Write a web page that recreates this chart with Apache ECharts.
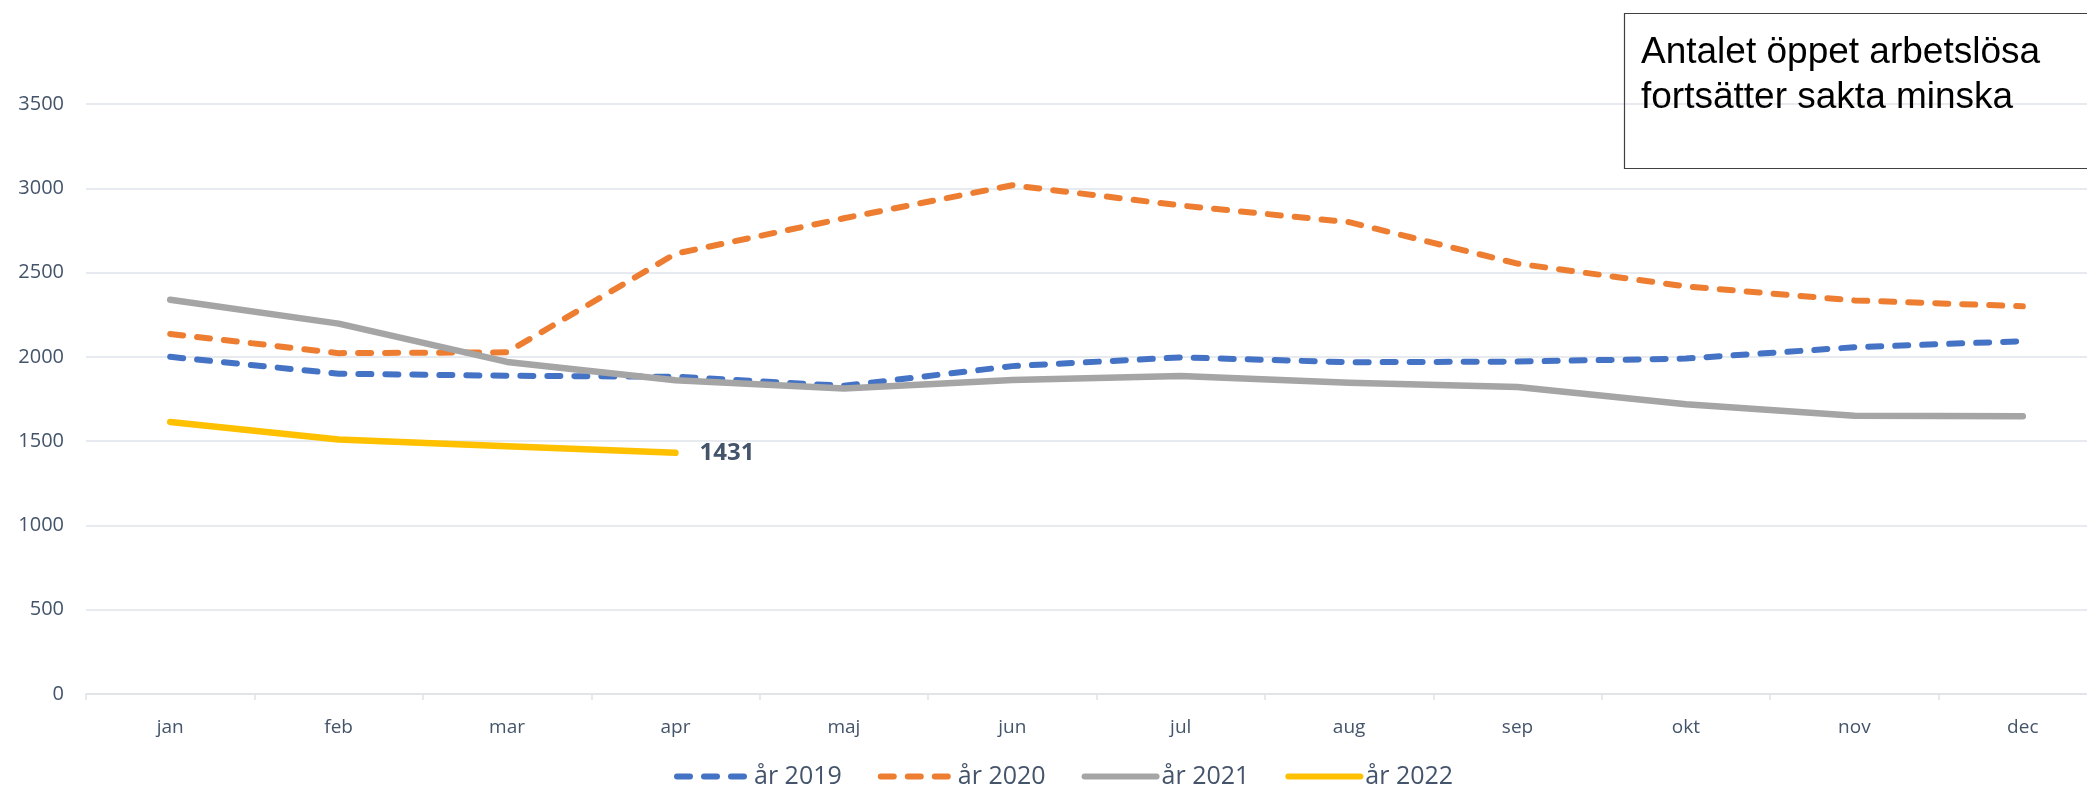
<!DOCTYPE html>
<html>
<head>
<meta charset="utf-8">
<script src="https://cdn.jsdelivr.net/npm/echarts@6/dist/echarts.min.js"></script>
<style>
html,body{margin:0;padding:0;background:#fff;overflow:hidden;}
#box{width:2107px;height:789px;}
</style>
</head>
<body>
<div id="box"></div>
<script>
var months = ['jan','feb','mar','apr','maj','jun','jul','aug','sep','okt','nov','dec'];
var ar2019 = [2000,1900,1888,1882,1828,1945,1997,1968,1972,1990,2057,2093];
var ar2020 = [2136,2022,2027,2612,2822,3018,2898,2799,2553,2418,2335,2300];
var ar2021 = [2339,2197,1970,1861,1812,1863,1887,1847,1821,1719,1651,1648];
var ar2022 = [1614,1510,1470,1431];
var seriesNames = ['år 2019','år 2020','år 2021','år 2022'];
var boxText = 'Antalet öppet arbetslösa\nfortsätter sakta minska';

var textColor = '#44546a';
var gridColor = '#dfe3e8';

// diagrammet går ut över högerkanten precis som i originalet (div 2107 bred)
var myChart = echarts.init(document.getElementById('box'));
var option = {
	animation: false,
	textStyle: {fontFamily: 'Open Sans'},
	grid: {left: 86, right: 0, top: 104, bottom: 95},
	legend: {
		data: seriesNames,
		left: 669,
		top: 759,
		itemWidth: 72,
		itemHeight: 14,
		itemGap: 36,
		itemStyle: {opacity: 0},
		lineStyle: {width: 6},
		textStyle: {color: textColor, fontSize: 25, fontFamily: 'Open Sans'}
	},
	xAxis: {
		type: 'category',
		data: months,
		boundaryGap: true,
		axisLine: {lineStyle: {color: gridColor, width: 1.5}},
		axisTick: {show: true, length: 6, lineStyle: {color: gridColor, width: 1.5}},
		axisLabel: {color: textColor, fontSize: 19, margin: 24}
	},
	yAxis: {
		type: 'value',
		min: 0,
		max: 3500,
		interval: 500,
		axisLine: {show: false},
		axisTick: {show: false},
		axisLabel: {
			color: textColor,
			fontSize: 20,
			margin: 22,
			formatter: function(v){ return String(v); }
		},
		splitLine: {lineStyle: {color: gridColor, width: 1.5}}
	},
	series: [{
		name: seriesNames[0],
		type: 'line',
		data: ar2019,
		symbol: 'none',
		color: '#4472C4',
		lineStyle: {width: 6, type: [13, 14], cap: 'round', join: 'round'}
	},{
		name: seriesNames[1],
		type: 'line',
		data: ar2020,
		symbol: 'none',
		color: '#ED7D31',
		lineStyle: {width: 6, type: [13, 14], cap: 'round', join: 'round'}
	},{
		name: seriesNames[2],
		type: 'line',
		data: ar2021,
		symbol: 'none',
		color: '#A5A5A5',
		lineStyle: {width: 6.5, cap: 'round', join: 'round'}
	},{
		name: seriesNames[3],
		type: 'line',
		data: ar2022,
		symbol: 'none',
		color: '#FFC000',
		lineStyle: {width: 6.5, cap: 'round', join: 'round'},
		endLabel: {
			show: true,
			distance: 24,
			formatter: '{c}',
			color: textColor,
			fontWeight: 'bold',
			fontSize: 24,
			fontFamily: 'Open Sans'
		}
	}],
	graphic: [{
		type: 'rect',
		left: 1622,
		top: 11,
		shape: {width: 480, height: 155},
		style: {fill: 'none', stroke: '#404040', lineWidth: 1.2},
		z: 100
	},{
		type: 'text',
		left: 1641,
		top: 30,
		style: {
			text: boxText,
			fill: '#000',
			font: '37px "Liberation Sans", Arial',
			lineHeight: 45
		},
		z: 101
	}]
};
myChart.setOption(option);
</script>
</body>
</html>
